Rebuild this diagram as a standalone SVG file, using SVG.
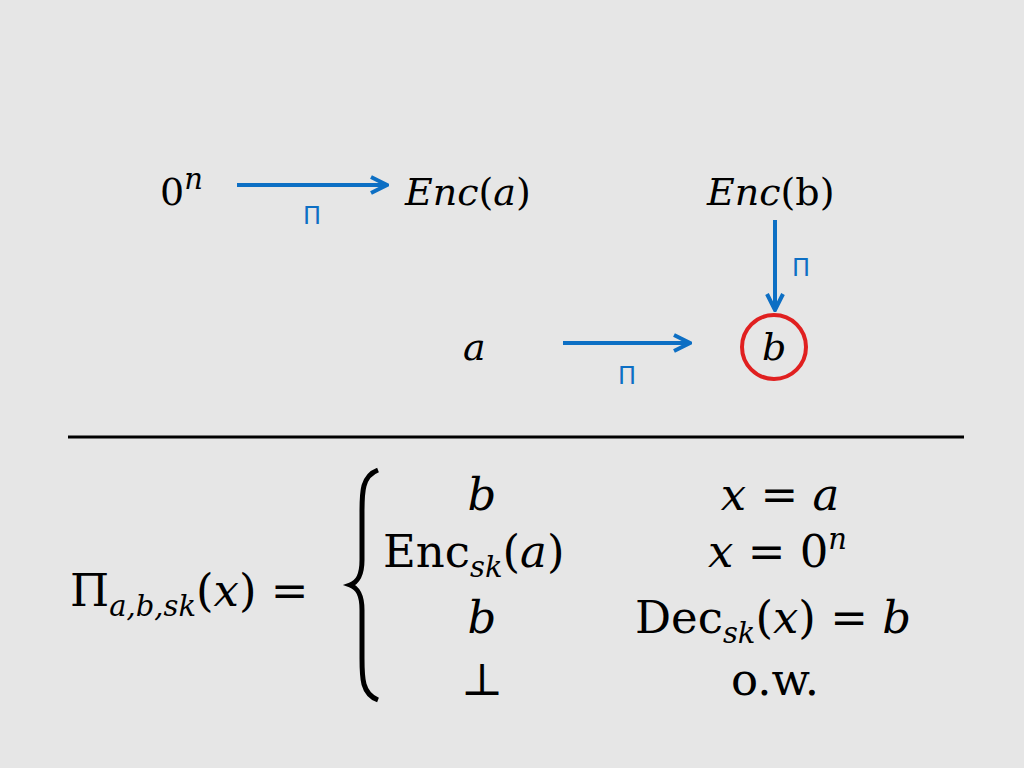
<svg xmlns="http://www.w3.org/2000/svg" width="1024" height="768" viewBox="0 0 1024 768">
<defs>
<marker id="ah" viewBox="0 0 10 10" refX="8" refY="5" markerWidth="5" markerHeight="5" orient="auto"><path d="M1,1 L9,5 L1,9" fill="none" stroke="#0d6fc4" stroke-width="2"/></marker>
<style>
.m{font-family:"DejaVu Serif","Liberation Serif",serif;font-style:italic;font-size:38px;fill:#000}
.r{font-family:"DejaVu Serif","Liberation Serif",serif;font-style:normal;font-size:38px;fill:#000}
.p{font-family:"DejaVu Sans",sans-serif;font-size:24px;fill:#0d6fc4}
.big{font-size:45px}
.sub{font-size:29px}
.c{stroke:#0d6fc4;stroke-width:4;fill:none;marker-end:url(#ah)}
</style>
</defs>
<rect width="1024" height="768" fill="#e6e6e6"/>
<g id="n0"><text x="160" y="205" class="r">0<tspan class="m sub" dy="-16">n</tspan></text></g>
<g id="encA"><text x="405" y="205" class="m">Enc<tspan class="r">(</tspan>a<tspan class="r">)</tspan></text></g>
<g id="encB"><text x="707" y="205" class="m">Enc<tspan class="r">(b)</tspan></text></g>
<g id="a"><text x="463" y="360" class="m">a</text></g>
<g id="b"><text x="762" y="360" class="m">b</text><circle cx="774" cy="347" r="32" fill="none" stroke="#e02020" stroke-width="4"/></g>
<g id="connectors">
<line x1="237" y1="185" x2="385" y2="185" class="c"/>
<line x1="775" y1="220" x2="775" y2="308" class="c"/>
<line x1="563" y1="343" x2="688" y2="343" class="c"/>
<text x="303" y="224" class="p">Π</text>
<text x="792" y="276" class="p">Π</text>
<text x="618" y="384" class="p">Π</text>
</g>
<line x1="68" y1="437" x2="964" y2="437" stroke="#000" stroke-width="3"/>
<g id="formula">
<text x="70" y="606" class="r big">Π<tspan class="m sub" dy="10">a,b,sk</tspan><tspan dy="-10">(</tspan><tspan class="m big">x</tspan>) =</text>
<path d="M378 470 C362 476 362 492 362 512 L362 560 C362 575 358 582 350 585 C358 588 362 595 362 610 L362 658 C362 678 362 694 378 700" fill="none" stroke="#000" stroke-width="5"/>
<text x="482" y="510" class="m big" text-anchor="middle">b</text>
<text x="780" y="510" class="m big" text-anchor="middle">x <tspan class="r big">=</tspan> a</text>
<text x="383" y="567" class="r big">Enc<tspan class="m sub" dy="10">sk</tspan><tspan dy="-10">(</tspan><tspan class="m big">a</tspan>)</text>
<text x="708" y="567" class="m big">x <tspan class="r big">= 0</tspan><tspan class="sub" dy="-18">n</tspan></text>
<text x="482" y="633" class="m big" text-anchor="middle">b</text>
<text x="635" y="633" class="r big">Dec<tspan class="m sub" dy="10">sk</tspan><tspan dy="-10">(</tspan><tspan class="m big">x</tspan>) = <tspan class="m big">b</tspan></text>
<text x="482" y="695" class="r big" text-anchor="middle">⊥</text>
<text x="775" y="695" class="r big" text-anchor="middle">o.w.</text>
</g>
</svg>
